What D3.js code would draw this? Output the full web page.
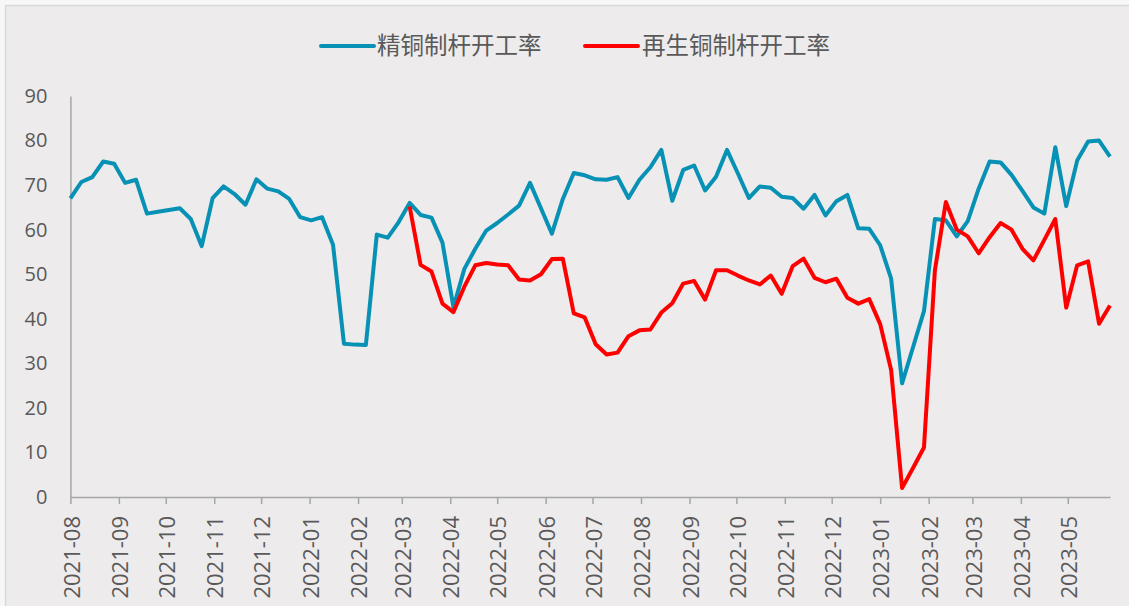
<!DOCTYPE html>
<html>
<head>
<meta charset="utf-8">
<script src="https://cdn.jsdelivr.net/npm/d3@7"></script>
<style>
  html, body { margin: 0; padding: 0; background: #f7f7f7; }
  svg { display: block; }
</style>
</head>
<body>
<svg id="chart" width="1129" height="606"></svg>
<script>
// Weekly observation dates (Sundays)
const dates = [
  "2021-08-01","2021-08-08","2021-08-15","2021-08-22","2021-08-29","2021-09-05","2021-09-12","2021-09-19",
  "2021-09-26","2021-10-03","2021-10-10","2021-10-17","2021-10-24","2021-10-31","2021-11-07","2021-11-14",
  "2021-11-21","2021-11-28","2021-12-05","2021-12-12","2021-12-19","2021-12-26","2022-01-02","2022-01-09",
  "2022-01-16","2022-01-23","2022-01-30","2022-02-06","2022-02-13","2022-02-20","2022-02-27","2022-03-06",
  "2022-03-13","2022-03-20","2022-03-27","2022-04-03","2022-04-10","2022-04-17","2022-04-24","2022-05-01",
  "2022-05-08","2022-05-15","2022-05-22","2022-05-29","2022-06-05","2022-06-12","2022-06-19","2022-06-26",
  "2022-07-03","2022-07-10","2022-07-17","2022-07-24","2022-07-31","2022-08-07","2022-08-14","2022-08-21",
  "2022-08-28","2022-09-04","2022-09-11","2022-09-18","2022-09-25","2022-10-02","2022-10-09","2022-10-16",
  "2022-10-23","2022-10-30","2022-11-06","2022-11-13","2022-11-20","2022-11-27","2022-12-04","2022-12-11",
  "2022-12-18","2022-12-25","2023-01-01","2023-01-08","2023-01-15","2023-01-22","2023-01-29","2023-02-05",
  "2023-02-12","2023-02-19","2023-02-26","2023-03-05","2023-03-12","2023-03-19","2023-03-26","2023-04-02",
  "2023-04-09","2023-04-16","2023-04-23","2023-04-30","2023-05-07","2023-05-14","2023-05-21","2023-05-28"
];

// 精铜制杆开工率 (%)
const refinedRate = [
  67.0, 70.7, 71.8, 75.3, 74.8, 70.5, 71.2, 63.6,
  64.0, 64.4, 64.8, 62.4, 56.3, 67.1, 69.7, 68.0,
  65.6, 71.3, 69.2, 68.6, 66.9, 62.8, 62.1, 62.8,
  56.6, 34.4, 34.2, 34.1, 58.9, 58.2, 61.7, 66.0,
  63.3, 62.7, 57.1, 42.6, 51.2, 55.7, 59.8, 61.5,
  63.4, 65.4, 70.5, 64.8, 59.1, 66.9, 72.7, 72.2,
  71.3, 71.2, 71.8, 67.1, 71.2, 74.0, 77.9, 66.5,
  73.4, 74.4, 68.8, 71.9, 77.9, 72.6, 67.1, 69.7,
  69.4, 67.4, 67.1, 64.7, 67.8, 63.2, 66.4, 67.8,
  60.3, 60.2, 56.5, 49.0, 25.5, 33.6, 41.7, 62.4,
  62.1, 58.5, 61.9, 69.2, 75.3, 75.1, 72.3, 68.7,
  65.0, 63.6, 78.5, 65.3, 75.5, 79.8, 80.0, 76.4
];

// 再生铜制杆开工率 (%), reported from 2022-03-06
const recycledRate = [
  null, null, null, null, null, null, null, null,
  null, null, null, null, null, null, null, null,
  null, null, null, null, null, null, null, null,
  null, null, null, null, null, null, null, 65.2,
  52.1, 50.6, 43.4, 41.5, 47.2, 52.0, 52.5, 52.2,
  52.0, 48.8, 48.6, 50.0, 53.4, 53.5, 41.2, 40.3,
  34.3, 32.0, 32.4, 36.1, 37.4, 37.6, 41.4, 43.5,
  47.9, 48.5, 44.3, 50.9, 50.9, 49.7, 48.6, 47.7,
  49.7, 45.6, 51.8, 53.5, 49.2, 48.2, 49.0, 44.7,
  43.4, 44.4, 38.8, 28.5, 2.0, 6.5, 11.1, 50.9,
  66.2, 60.0, 58.5, 54.7, 58.3, 61.5, 60.0, 55.7,
  53.1, 57.7, 62.4, 42.5, 52.0, 52.9, 38.9, 43.0
];

const seriesNames = ["精铜制杆开工率", "再生铜制杆开工率"];
const seriesColors = ["#0791b4", "#ff0000"];
const yTicks = [0, 10, 20, 30, 40, 50, 60, 70, 80, 90];
const monthTicks = [
  "2021-08","2021-09","2021-10","2021-11","2021-12","2022-01","2022-02","2022-03",
  "2022-04","2022-05","2022-06","2022-07","2022-08","2022-09","2022-10","2022-11",
  "2022-12","2023-01","2023-02","2023-03","2023-04","2023-05"
];

const parse = d3.utcParse("%Y-%m-%d");
const parseMonth = d3.utcParse("%Y-%m");
const dateObjs = dates.map(parse);

const svg = d3.select("#chart");
const W = 1129, H = 606;
const numFont = "'Open Sans', 'Noto Sans', sans-serif";
const cjkFont = "'Noto Sans CJK SC', 'Noto Sans', sans-serif";

// Panel background
svg.append("rect")
  .attr("x", 5.5).attr("y", 5.5)
  .attr("width", W).attr("height", H)
  .attr("fill", "#edebec")
  .attr("stroke", "#d9d9d9")
  .attr("stroke-width", 1.5);

const plot = { left: 70.4, right: 1110, top: 96, bottom: 497 };

const x = d3.scaleUtc()
  .domain(d3.extent(dateObjs))
  .range([plot.left, plot.right]);

const y = d3.scaleLinear()
  .domain([0, 90])
  .range([plot.bottom, plot.top]);

// Y axis
const yAxis = svg.append("g")
  .attr("transform", `translate(${plot.left},0)`)
  .call(d3.axisLeft(y).tickValues(yTicks).tickSize(0).tickPadding(23).tickFormat(d3.format("d")));
yAxis.select(".domain").attr("stroke", "#a6a6a6").attr("stroke-width", 1.5);
yAxis.selectAll("text")
  .attr("fill", "#595959")
  .style("font-family", numFont)
  .style("font-size", "20px");

// X axis with month ticks
const xAxis = svg.append("g")
  .attr("transform", `translate(0,${plot.bottom})`)
  .call(d3.axisBottom(x)
    .tickValues(monthTicks.map(parseMonth))
    .tickSize(7)
    .tickSizeOuter(0)
    .tickFormat(d3.utcFormat("%Y-%m")));
xAxis.select(".domain").attr("stroke", "#a6a6a6").attr("stroke-width", 1.5);
xAxis.selectAll(".tick line").attr("stroke", "#a6a6a6").attr("stroke-width", 1.5);
xAxis.selectAll("text")
  .attr("fill", "#595959")
  .style("font-family", numFont)
  .style("font-size", "22px")
  .attr("transform", "rotate(-90)")
  .attr("x", -19)
  .attr("y", 1)
  .attr("dy", "0.35em")
  .attr("text-anchor", "end");

// Series lines
const seriesData = [refinedRate, recycledRate];
const line = d3.line()
  .defined(d => d.v != null)
  .x(d => x(d.t))
  .y(d => y(d.v));

seriesData.forEach((vals, i) => {
  const pts = vals.map((v, j) => ({ t: dateObjs[j], v }));
  svg.append("path")
    .datum(pts)
    .attr("fill", "none")
    .attr("stroke", seriesColors[i])
    .attr("stroke-width", 4)
    .attr("stroke-linejoin", "round")
    .attr("d", line);
});

// Legend
const legendItems = [
  { x1: 321, x2: 374, tx: 377 },
  { x1: 585, x2: 638, tx: 642 }
];
const legend = svg.append("g");
legendItems.forEach((it, i) => {
  legend.append("line")
    .attr("x1", it.x1).attr("x2", it.x2)
    .attr("y1", 46).attr("y2", 46)
    .attr("stroke", seriesColors[i])
    .attr("stroke-width", 4)
    .attr("stroke-linecap", "round");
  legend.append("text")
    .attr("x", it.tx).attr("y", 46)
    .attr("dy", "0.35em")
    .attr("fill", "#595959")
    .style("font-family", cjkFont)
    .style("font-size", "23.5px")
    .text(seriesNames[i]);
});
</script>
</body>
</html>
